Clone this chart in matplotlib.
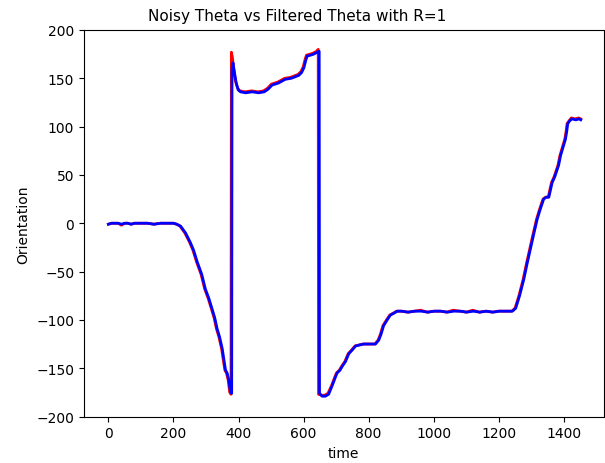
import numpy as np
import matplotlib
matplotlib.use('Agg')
import matplotlib.pyplot as plt

# noisy theta (red)
t_noisy = [0, 10, 20, 30, 40, 50, 60, 70, 80, 90, 100, 120, 140, 160, 180, 200, 210,
           220, 235, 250, 260, 271, 285, 296, 307, 317, 325, 332, 340, 348, 358, 363,
           368, 373, 377,
           378, 381, 385, 390, 397, 404, 420, 440, 460, 477, 490, 501, 520, 542, 560,
           583, 592, 599, 605, 609, 620, 629, 640, 645,
           646, 655, 665, 675, 686, 695, 701, 710, 717, 727, 737, 748, 758, 770, 783,
           800, 819, 829, 836, 844, 855, 865, 876, 886, 900, 920, 940, 960, 980, 1000,
           1020, 1040, 1060, 1080, 1100, 1120, 1140, 1160, 1180, 1200, 1220, 1240,
           1250, 1262, 1275, 1285, 1295, 1305, 1316, 1325, 1336, 1344, 1352, 1358, 1362,
           1370, 1377, 1382, 1388, 1395, 1403, 1407, 1410, 1416, 1423, 1435, 1445, 1452]
theta_noisy = [-1, 0, 0, 0, -2, 0, 0, -1, 0, 0, 0, 0, -1, 0, 0, 0, -1,
               -3, -10, -20, -28, -40, -53, -68, -78, -89, -98, -109, -118, -130, -152, -155,
               -162, -175, -177,
               177, 172, 160, 148, 140, 137, 136, 137, 136, 137, 140, 144, 146, 150, 151,
               154, 157, 162, 170, 174, 175, 176, 178, 180,
               -177, -178, -178, -176, -168, -160, -155, -152, -148, -143, -135, -131, -127, -126, -125,
               -125, -125, -121, -115, -106, -100, -95, -93, -91, -91, -92, -91, -90, -92, -91,
               -91, -92, -90, -91, -92, -90, -92, -91, -92, -91, -91, -91,
               -88, -75, -58, -42, -27, -12, 4, 14, 25, 27, 27, 36, 42,
               48, 55, 60, 70, 78, 87, 95, 103, 106, 109, 108, 109, 108]

# filtered theta (blue)
t_filt = [0, 10, 20, 30, 40, 50, 60, 70, 80, 90, 100, 120, 140, 160, 180, 200, 210,
          222, 237, 252, 262, 273, 287, 298, 309, 319, 327, 334, 342, 350, 360, 365,
          370, 375, 379,
          380, 383, 388, 393, 399, 406, 422, 442, 462, 479, 492, 503, 522, 544, 562,
          585, 594, 601, 607, 611, 622, 631, 642, 648,
          649, 657, 667, 677, 688, 697, 703, 712, 719, 729, 739, 750, 760, 772, 785,
          802, 821, 831, 838, 846, 857, 867, 878, 888, 902, 922, 942, 962, 982, 1002,
          1022, 1042, 1062, 1082, 1102, 1122, 1142, 1162, 1182, 1202, 1222, 1242,
          1252, 1264, 1277, 1287, 1297, 1307, 1318, 1327, 1338, 1346, 1354, 1360, 1364,
          1372, 1379, 1384, 1390, 1397, 1405, 1409, 1412, 1418, 1425, 1437, 1447, 1452]
theta_filt = [-1, 0, 0, 0, -1, 0, 0, -1, 0, 0, 0, 0, -1, 0, 0, 0, -1,
              -3, -10, -20, -28, -40, -53, -68, -78, -89, -98, -109, -118, -130, -152, -155,
              -162, -174, -176,
              160, 166, 155, 145, 138, 136, 135, 136, 135, 136, 139, 143, 145, 149, 150,
              153, 156, 161, 169, 173, 174, 175, 177, 178,
              -176, -179, -179, -177, -168, -160, -155, -152, -148, -143, -135, -131, -127, -126, -125,
              -125, -125, -121, -115, -106, -100, -95, -93, -91, -91, -92, -91, -91, -92, -91,
              -91, -92, -91, -91, -92, -91, -92, -91, -92, -91, -91, -91,
              -88, -75, -58, -42, -27, -12, 4, 14, 25, 27, 27, 36, 42,
              48, 55, 60, 70, 78, 87, 95, 103, 106, 108, 107, 108, 107]

fig = plt.figure(figsize=(6.05, 4.64), dpi=100)
ax = fig.add_axes([84/605, 1 - 417.5/464, (603.5 - 84)/605, (417.5 - 31)/464])

ax.plot(t_noisy, theta_noisy, color='red', lw=2)
ax.plot(t_filt, theta_filt, color='blue', lw=2)

ax.set_xlim(-75, 1522)
ax.set_ylim(-200, 200)
ax.set_xlabel('time')
ax.set_ylabel('Orientation')
fig.suptitle('Noisy Theta vs Filtered Theta with R=1', x=297.5/605, y=0.98, fontsize=11)

fig.savefig('out.png', dpi=100)
